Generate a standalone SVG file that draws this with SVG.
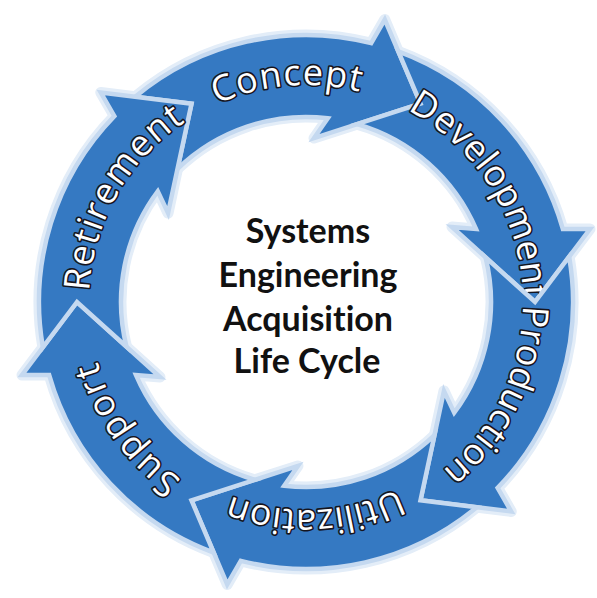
<svg xmlns="http://www.w3.org/2000/svg" width="597" height="598" viewBox="0 0 597 598">
  <style>
    .body { fill: #3579c2; stroke: #c5d9f0; stroke-width: 4.5; stroke-linejoin: miter; }
    .halo { fill: none; stroke: #e3edf8; stroke-width: 11; stroke-linejoin: round; }
    .lbl { font-family: "Open Sans", Lato, sans-serif; font-size: 36px; fill: #ffffff; stroke: #15151f; stroke-width: 3.2; paint-order: stroke; stroke-linejoin: round; font-variant-ligatures: none; }
    .title { font-family: Lato, "Open Sans", sans-serif; font-weight: 700; font-size: 34px; fill: #111111; text-anchor: middle; font-variant-ligatures: none; }
  </style>
  <defs>
    <path id="arrow" d="M -250.54 -92.33 A 267 267 0 0 1 -73.01 -256.82 L -73 -284 L 0 -229 L -75 -146 L -73 -170 A 185 185 0 0 0 -177.81 -51.05 L -198.32 -114.5 Z"/>
    <path id="lp" d="M -217 0 A 217 217 0 0 1 217 0"/>
    <path id="lp2" d="M -208 0 A 208 208 0 0 1 208 0"/>
  </defs>
  <rect width="597" height="598" fill="#ffffff"/>
  <g id="halo">
    <use href="#arrow" class="halo" transform="translate(306 302) rotate(30)"/>
    <use href="#arrow" class="halo" transform="translate(306 302) rotate(90)"/>
    <use href="#arrow" class="halo" transform="translate(306 302) rotate(150)"/>
    <use href="#arrow" class="halo" transform="translate(306 302) rotate(210)"/>
    <use href="#arrow" class="halo" transform="translate(306 302) rotate(270)"/>
    <use href="#arrow" class="halo" transform="translate(306 302) rotate(330)"/>
  </g>
  <g id="concept">
    <use href="#arrow" class="body" transform="translate(306 302) rotate(30)"/>
    <text class="lbl" text-anchor="middle" transform="translate(306 302) rotate(-5)"><textPath href="#lp" startOffset="50%" textLength="146" lengthAdjust="spacing">Concept</textPath></text>
  </g>
  <g id="development">
    <use href="#arrow" class="body" transform="translate(306 302) rotate(90)"/>
    <text class="lbl" text-anchor="middle" transform="translate(306 302) rotate(58.5)"><textPath href="#lp" startOffset="50%" textLength="232" lengthAdjust="spacing">Development</textPath></text>
  </g>
  <g id="production">
    <use href="#arrow" class="body" transform="translate(306 302) rotate(150)"/>
    <text class="lbl" text-anchor="middle" transform="translate(306 302) rotate(116)"><textPath href="#lp" startOffset="50%" textLength="190" lengthAdjust="spacing">Production</textPath></text>
  </g>
  <g id="utilization">
    <use href="#arrow" class="body" transform="translate(306 302) rotate(210)"/>
    <text class="lbl" text-anchor="middle" transform="translate(306 302) rotate(177.5)"><textPath href="#lp2" startOffset="50%" textLength="172" lengthAdjust="spacing">Utilization</textPath></text>
  </g>
  <g id="support">
    <use href="#arrow" class="body" transform="translate(306 302) rotate(270)"/>
    <text class="lbl" text-anchor="middle" transform="translate(306 302) rotate(234.5)"><textPath href="#lp" startOffset="50%" textLength="148" lengthAdjust="spacing">Support</textPath></text>
  </g>
  <g id="retirement">
    <use href="#arrow" class="body" transform="translate(306 302) rotate(330)"/>
    <text class="lbl" text-anchor="middle" transform="translate(306 302) rotate(299.5)"><textPath href="#lp" startOffset="50%" textLength="202" lengthAdjust="spacing">Retirement</textPath></text>
  </g>
  <g id="center-title">
    <text class="title" x="308" y="243">Systems</text>
    <text class="title" x="308" y="287">Engineering</text>
    <text class="title" x="308" y="331">Acquisition</text>
    <text class="title" x="307" y="373">Life Cycle</text>
  </g>
</svg>
